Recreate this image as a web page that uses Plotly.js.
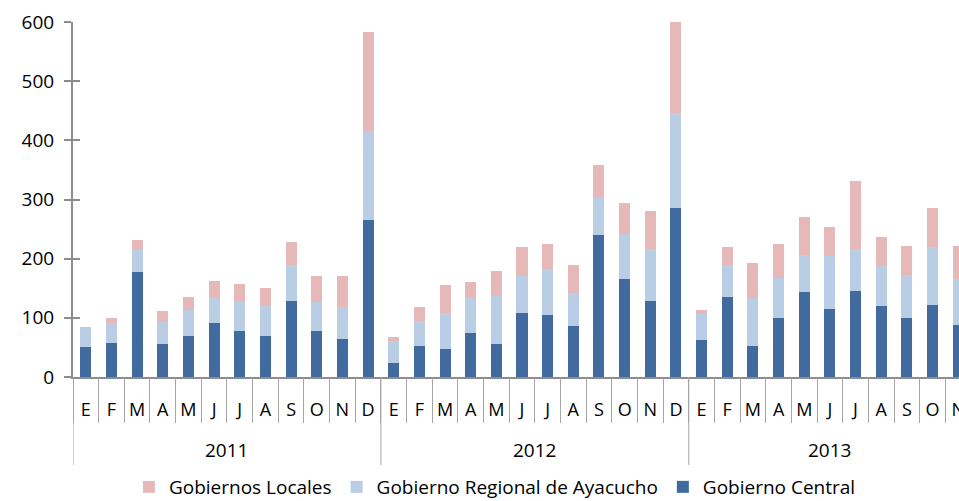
<!DOCTYPE html>
<html>
<head>
<meta charset="utf-8">
<script src="https://cdn.plot.ly/plotly-3.0.1.min.js"></script>
<style>
html,body{margin:0;padding:0;overflow:hidden;background:#fff;}
#chart{width:980px;height:506px;}
</style>
</head>
<body>
<div id="chart"></div>
<script>
// ---- data ----
const monthLetters = ["E","F","M","A","M","J","J","A","S","O","N","D"];
const yearLabels = ["2011","2012","2013"];
const monthsPerYear = [12, 12, 11];

const gobiernoCentral = [
  51, 57, 177, 55, 69, 91, 77, 69, 129, 77, 65, 266,
  23, 52, 47, 74, 55, 109, 104, 87, 240, 166, 129, 285,
  63, 136, 52, 100, 144, 115, 146, 120, 100, 122, 88
];
const gobiernoRegional = [
  33, 35, 38, 38, 44, 45, 52, 51, 60, 50, 54, 149,
  38, 43, 61, 61, 82, 61, 78, 55, 64, 75, 87, 162,
  44, 53, 81, 68, 63, 89, 71, 70, 72, 98, 77
];
const gobiernosLocales = [
  1, 8, 16, 19, 23, 26, 29, 30, 40, 43, 52, 168,
  7, 23, 48, 25, 43, 49, 42, 48, 54, 53, 64, 155,
  7, 30, 59, 57, 63, 49, 115, 46, 50, 65, 57
];

const seriesNames = ["Gobierno Central", "Gobierno Regional de Ayacucho", "Gobiernos Locales"];
const seriesColors = ["#416B9F", "#B9CDE5", "#E6B9B8"];

// ---- derived positions (from data) ----
const xIdx = [], xText = [];
yearLabels.forEach((y, i) => {
  for (let m = 0; m < monthsPerYear[i]; m++) { xIdx.push(xIdx.length); xText.push(monthLetters[m]); }
});
const n = xIdx.length;
const monthBounds = [];
for (let i = 0; i <= n; i++) monthBounds.push(i - 0.5);
const yearBounds = [-0.5];
const yearCenters = [];
let acc = 0;
monthsPerYear.forEach(c => { yearCenters.push(acc + (c - 1) / 2); acc += c; yearBounds.push(acc - 0.5); });

const FONT = "'Open Sans', 'Noto Sans', sans-serif";
const seriesValues = [gobiernoCentral, gobiernoRegional, gobiernosLocales];
const traces = seriesValues.map((vals, i) => ({
  type: "bar",
  name: seriesNames[i],
  x: xIdx,
  y: vals,
  marker: {color: seriesColors[i], line: {width: 0}},
  hoverinfo: "y+name"
}));
// invisible helper trace that carries the overlay axes (boundary ticks, cross ticks)
traces.push({type: "scatter", x: [xIdx[0]], y: [0], xaxis: "x2", yaxis: "y2",
  mode: "markers", marker: {opacity: 0}, showlegend: false, hoverinfo: "skip"});

const gray = "#8C8C8C";
const plotH = 355;
const shapes = yearBounds.map(b => ({
  type: "line", xref: "x", yref: "paper", x0: b, x1: b, y0: 0, y1: -88 / plotH,
  line: {color: "#A6A6A6", width: 1}
}));
const annotations = yearLabels.map((y, i) => ({
  text: y, xref: "x", yref: "paper", x: yearCenters[i], y: -73 / plotH,
  xanchor: "center", yanchor: "middle", showarrow: false,
  font: {family: FONT, size: 19, color: "#000"}
}));

const layout = {
  width: 980, height: 506,
  margin: {l: 73, r: 9, t: 22, b: 129},
  paper_bgcolor: "#fff", plot_bgcolor: "#fff",
  barmode: "stack",
  bargap: 0.57,
  showlegend: true,
  font: {family: FONT, color: "#000", size: 18},
  xaxis: {
    range: [-0.5, n - 0.5],
    tickmode: "array", tickvals: xIdx, ticktext: xText,
    ticks: "", ticklabelstandoff: 15,
    showline: true, linecolor: gray, linewidth: 2,
    tickfont: {family: FONT, size: 18, color: "#000"},
    showgrid: false, zeroline: false, fixedrange: true
  },
  xaxis2: {
    overlaying: "x", anchor: "y", side: "bottom",
    range: [-0.5, n - 0.5],
    tickmode: "array", tickvals: monthBounds, showticklabels: false,
    ticks: "outside", ticklen: 45, tickcolor: "#A6A6A6", tickwidth: 1,
    showline: false, showgrid: false, zeroline: false, fixedrange: true
  },
  yaxis: {
    range: [0, 600], dtick: 100, tick0: 0,
    showline: true, linecolor: gray, linewidth: 2,
    ticks: "outside", ticklen: 7, tickcolor: gray, tickwidth: 2,
    ticklabelstandoff: 6,
    tickfont: {family: FONT, size: 19, color: "#000"},
    showgrid: false, zeroline: false, fixedrange: true
  },
  yaxis2: {
    overlaying: "y", anchor: "x", side: "left", range: [0, 600], dtick: 100, tick0: 0,
    showline: false, showticklabels: false,
    ticks: "inside", ticklen: 7, tickcolor: gray, tickwidth: 2,
    showgrid: false, zeroline: false, fixedrange: true
  },
  shapes: shapes,
  annotations: annotations,
  legend: {
    orientation: "h", traceorder: "reversed",
    xref: "container", yref: "container",
    x: 0.505, xanchor: "center", y: 0, yanchor: "bottom",
    font: {family: FONT, size: 19, color: "#000"},
    itemwidth: 30, tracegroupgap: 0
  }
};

Plotly.newPlot("chart", traces, layout, {displayModeBar: false, staticPlot: true});
</script>
</body>
</html>
